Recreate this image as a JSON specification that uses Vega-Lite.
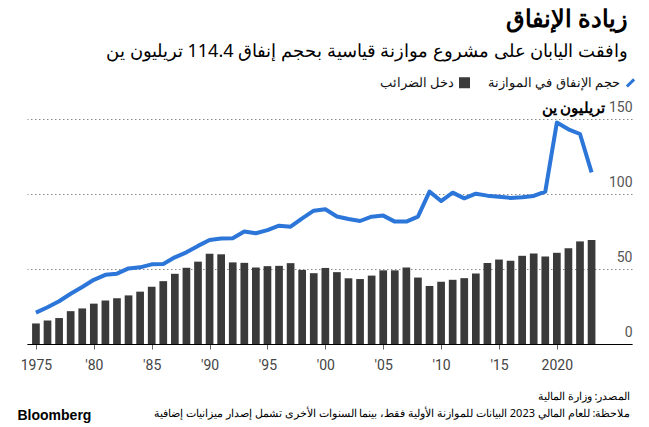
{
  "$schema": "https://vega.github.io/schema/vega-lite/v6.json",
  "autosize": "none",
  "width": 605,
  "height": 225,
  "padding": {"left": 27, "top": 119, "right": 17, "bottom": 83},
  "background": "white",
  "config": {
    "view": {"stroke": null},
    "font": "Noto Sans",
    "title": {"font": "Noto Sans", "color": "#000"}
  },
  "title": {
    "text": "زيادة الإنفاق",
    "subtitle": "وافقت اليابان على مشروع موازنة قياسية بحجم إنفاق 114.4 تريليون ين",
    "anchor": "end",
    "frame": "group",
    "fontSize": 24,
    "fontWeight": "bold",
    "subtitleFontSize": 18,
    "subtitleColor": "#000",
    "subtitlePadding": 11,
    "offset": 15,
    "dx": -4
  },
  "data": {
    "values": [
      {"year": 1975, "tax": 13.7, "spending": 20.9},
      {"year": 1976, "tax": 15.7, "spending": 24.5},
      {"year": 1977, "tax": 17.3, "spending": 28.5},
      {"year": 1978, "tax": 21.9, "spending": 33.5},
      {"year": 1979, "tax": 23.7, "spending": 38.0},
      {"year": 1980, "tax": 26.9, "spending": 42.8},
      {"year": 1981, "tax": 29.0, "spending": 46.1},
      {"year": 1982, "tax": 30.5, "spending": 46.9},
      {"year": 1983, "tax": 32.4, "spending": 50.4},
      {"year": 1984, "tax": 34.9, "spending": 51.1},
      {"year": 1985, "tax": 38.2, "spending": 53.1},
      {"year": 1986, "tax": 41.9, "spending": 53.3},
      {"year": 1987, "tax": 46.8, "spending": 57.8},
      {"year": 1988, "tax": 50.8, "spending": 61.1},
      {"year": 1989, "tax": 54.9, "spending": 65.4},
      {"year": 1990, "tax": 60.1, "spending": 69.3},
      {"year": 1991, "tax": 59.8, "spending": 70.3},
      {"year": 1992, "tax": 54.4, "spending": 70.5},
      {"year": 1993, "tax": 54.1, "spending": 75.0},
      {"year": 1994, "tax": 51.0, "spending": 73.8},
      {"year": 1995, "tax": 51.9, "spending": 75.9},
      {"year": 1996, "tax": 52.1, "spending": 78.9},
      {"year": 1997, "tax": 53.9, "spending": 78.2},
      {"year": 1998, "tax": 49.4, "spending": 83.8},
      {"year": 1999, "tax": 47.2, "spending": 88.9},
      {"year": 2000, "tax": 50.7, "spending": 89.8},
      {"year": 2001, "tax": 47.9, "spending": 85.0},
      {"year": 2002, "tax": 43.8, "spending": 83.3},
      {"year": 2003, "tax": 43.3, "spending": 82.0},
      {"year": 2004, "tax": 45.6, "spending": 84.9},
      {"year": 2005, "tax": 49.1, "spending": 85.6},
      {"year": 2006, "tax": 49.1, "spending": 81.6},
      {"year": 2007, "tax": 51.0, "spending": 81.6},
      {"year": 2008, "tax": 44.3, "spending": 84.9},
      {"year": 2009, "tax": 38.7, "spending": 101.6},
      {"year": 2010, "tax": 41.5, "spending": 95.3},
      {"year": 2011, "tax": 42.8, "spending": 100.9},
      {"year": 2012, "tax": 43.9, "spending": 97.1},
      {"year": 2013, "tax": 47.0, "spending": 100.2},
      {"year": 2014, "tax": 54.0, "spending": 98.9},
      {"year": 2015, "tax": 56.3, "spending": 98.2},
      {"year": 2016, "tax": 55.5, "spending": 97.4},
      {"year": 2017, "tax": 58.8, "spending": 97.8},
      {"year": 2018, "tax": 60.4, "spending": 98.7},
      {"year": 2019, "tax": 58.4, "spending": 101.6},
      {"year": 2020, "tax": 60.8, "spending": 147.6},
      {"year": 2021, "tax": 63.9, "spending": 143.1},
      {"year": 2022, "tax": 68.4, "spending": 140.0},
      {"year": 2023, "tax": 69.4, "spending": 114.4}
    ]
  },
  "encoding": {
    "x": {
      "field": "year",
      "type": "quantitative",
      "scale": {"domain": [1974.66, 2026.06], "nice": false, "zero": false},
      "axis": {
        "values": [1975, 1980, 1985, 1990, 1995, 2000, 2005, 2010, 2015, 2020],
        "labelExpr": "datum.value == 1975 || datum.value == 2020 ? toString(datum.value) : \"'\" + slice(toString(datum.value), 2)",
        "grid": false,
        "domainColor": "#000",
        "domainWidth": 1,
        "tickColor": "#666",
        "tickSize": 5,
        "labelFont": "Roboto",
        "labelFontSize": 14,
        "labelColor": "#444",
        "labelPadding": 9,
        "labelFlush": false,
        "title": ["المصدر: وزارة المالية", "ملاحظة: للعام المالي 2023 البيانات للموازنة الأولية فقط، بينما السنوات الأخرى تشمل إصدار ميزانيات إضافية"],
        "titleFontSize": 11,
        "titleFontWeight": "normal",
        "titleColor": "#000",
        "titleLineHeight": 17,
        "titleAnchor": "end",
        "titleAlign": "right",
        "titleBaseline": "middle",
        "titleX": 603,
        "titleY": 52
      }
    }
  },
  "resolve": {"axis": {"y": "independent"}},
  "layer": [
    {
      "mark": {"type": "bar", "size": 7.7, "color": "#3a3a3a"},
      "encoding": {
        "y": {
          "field": "tax",
          "type": "quantitative",
          "scale": {"domain": [0, 150], "nice": false},
          "axis": {
            "orient": "right",
            "values": [0, 50, 100, 150],
            "grid": true,
            "gridDash": [1.5, 2.5],
            "gridColor": "#888",
            "gridWidth": 1,
            "domain": false,
            "ticks": false,
            "tickSize": 0,
            "labelAlign": "right",
            "labelBaseline": "alphabetic",
            "labelOffset": -8,
            "labelPadding": 0,
            "labelFont": "Roboto",
            "labelFontSize": 14,
            "labelColor": "#555",
            "title": "تريليون ين",
            "titleAngle": 0,
            "titleAlign": "right",
            "titleBaseline": "middle",
            "titleFontSize": 15,
            "titleFontWeight": "bold",
            "titleColor": "#000",
            "titleX": -27,
            "titleY": -12
          }
        },
        "color": {
          "datum": "دخل الضرائب",
          "type": "nominal",
          "scale": {"domain": ["دخل الضرائب", "حجم الإنفاق في الموازنة"], "range": ["#3a3a3a", "#2b76d8"]},
          "legend": {
            "orient": "none",
            "legendX": 431,
            "legendY": -43,
            "direction": "horizontal",
            "title": null,
            "labelFontSize": 13,
            "labelColor": "#111",
            "labelAlign": "right",
            "labelOffset": -17,
            "columnPadding": 12,
            "symbolSize": 64,
            "encode": {
              "symbols": {
                "update": {
                  "shape": {"signal": "datum.value === 'دخل الضرائب' ? 'square' : 'M-0.9,0.9L0.9,-0.9'"},
                  "fill": {"signal": "datum.value === 'دخل الضرائب' ? '#3a3a3a' : 'transparent'"},
                  "stroke": {"signal": "datum.value === 'دخل الضرائب' ? 'transparent' : '#2b76d8'"},
                  "strokeWidth": {"value": 3},
                  "opacity": {"value": 1}
                }
              }
            }
          }
        }
      }
    },
    {
      "mark": {"type": "line", "strokeWidth": 4, "strokeJoin": "round"},
      "encoding": {
        "y": {
          "field": "spending",
          "type": "quantitative",
          "scale": {"domain": [0, 150], "nice": false},
          "axis": {
            "orient": "left",
            "labels": false,
            "ticks": false,
            "domain": false,
            "grid": false,
            "title": "Bloomberg",
            "titleFont": "Liberation Sans",
            "titleFontSize": 14,
            "titleFontWeight": "bold",
            "titleColor": "#000",
            "titleAngle": 0,
            "titleAlign": "left",
            "titleBaseline": "middle",
            "titleX": -10,
            "titleY": 296
          }
        },
        "color": {"datum": "حجم الإنفاق في الموازنة", "type": "nominal"}
      }
    }
  ]
}
